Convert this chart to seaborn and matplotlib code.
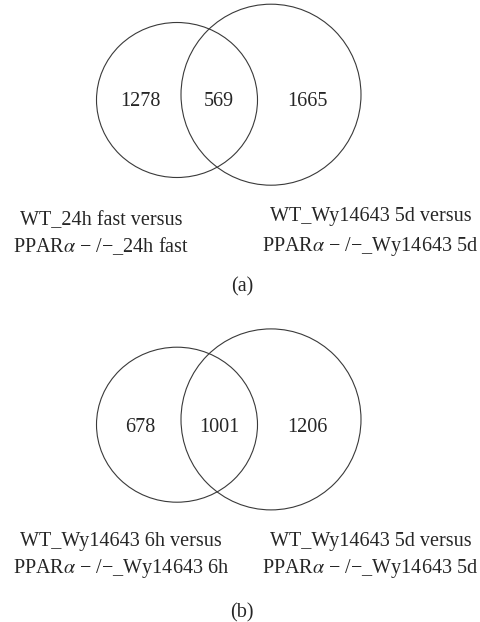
import numpy as np
import matplotlib
matplotlib.use("Agg")
import matplotlib.pyplot as plt
from matplotlib.patches import Ellipse
import pandas as pd
import seaborn as sns

# counts: left only, overlap, right only
counts_a = [1278, 569, 1665]
counts_b = [678, 1001, 1206]

labels_a_left = ["WT_24h fast versus", r"PPAR$\alpha$ − /−_24h fast"]
labels_a_right = ["WT_Wy14643 5d versus", r"PPAR$\alpha$ − /−_Wy14643 5d"]
labels_b_left = ["WT_Wy14643 6h versus", r"PPAR$\alpha$ − /−_Wy14643 6h"]
labels_b_right = ["WT_Wy14643 5d versus", r"PPAR$\alpha$ − /−_Wy14643 5d"]
panel_tags = ["(a)", "(b)"]

sns.set_theme(style="white")
plt.rcParams['font.family'] = ['Liberation Serif', 'DejaVu Serif']
plt.rcParams['mathtext.fontset'] = 'stix'

fig = plt.figure(figsize=(4.81, 6.22), dpi=100)
ax = fig.add_axes([0, 0, 1, 1])
ax.set_xlim(0, 481)
ax.set_ylim(622, 0)
ax.axis("off")

line_col = "#3a3a3a"
txt_col = "#262626"
fs = 14.5


def venn(y0, counts, left_lbl, right_lbl, tag, num_y, lbl_y, lbl_x_left, tag_y):
    # left and right sets
    ax.add_patch(Ellipse((177, y0 + 100), 161, 155, fill=False, ec=line_col, lw=0.8))
    ax.add_patch(Ellipse((271, y0 + 94.7), 180, 181, fill=False, ec=line_col, lw=0.8))
    df = pd.DataFrame({"x": [140, 219, 307], "y": [num_y] * 3, "n": counts})
    for _, r in df.iterrows():
        ax.text(r["x"], r["y"], str(int(r["n"])), ha="center", va="center",
                fontsize=fs, color=txt_col)
    for i, t in enumerate(left_lbl):
        ax.text(lbl_x_left, lbl_y[i], t, ha="center", va="center", fontsize=fs, color=txt_col)
    for i, t in enumerate(right_lbl):
        ax.text(370.5, lbl_y[i] - (4 if i == 0 and y0 == 0 else 0), t, ha="center", va="center",
                fontsize=fs, color=txt_col)
    ax.text(242, tag_y, tag, ha="center", va="center", fontsize=fs, color=txt_col)


venn(0, counts_a, labels_a_left, labels_a_right, panel_tags[0], 101.7, [220.7, 246], 101, 286.7)
venn(324.7, counts_b, labels_b_left, labels_b_right, panel_tags[1], 427, [541.7, 569], 121, 612.7)

fig.savefig("out.png", dpi=100)
